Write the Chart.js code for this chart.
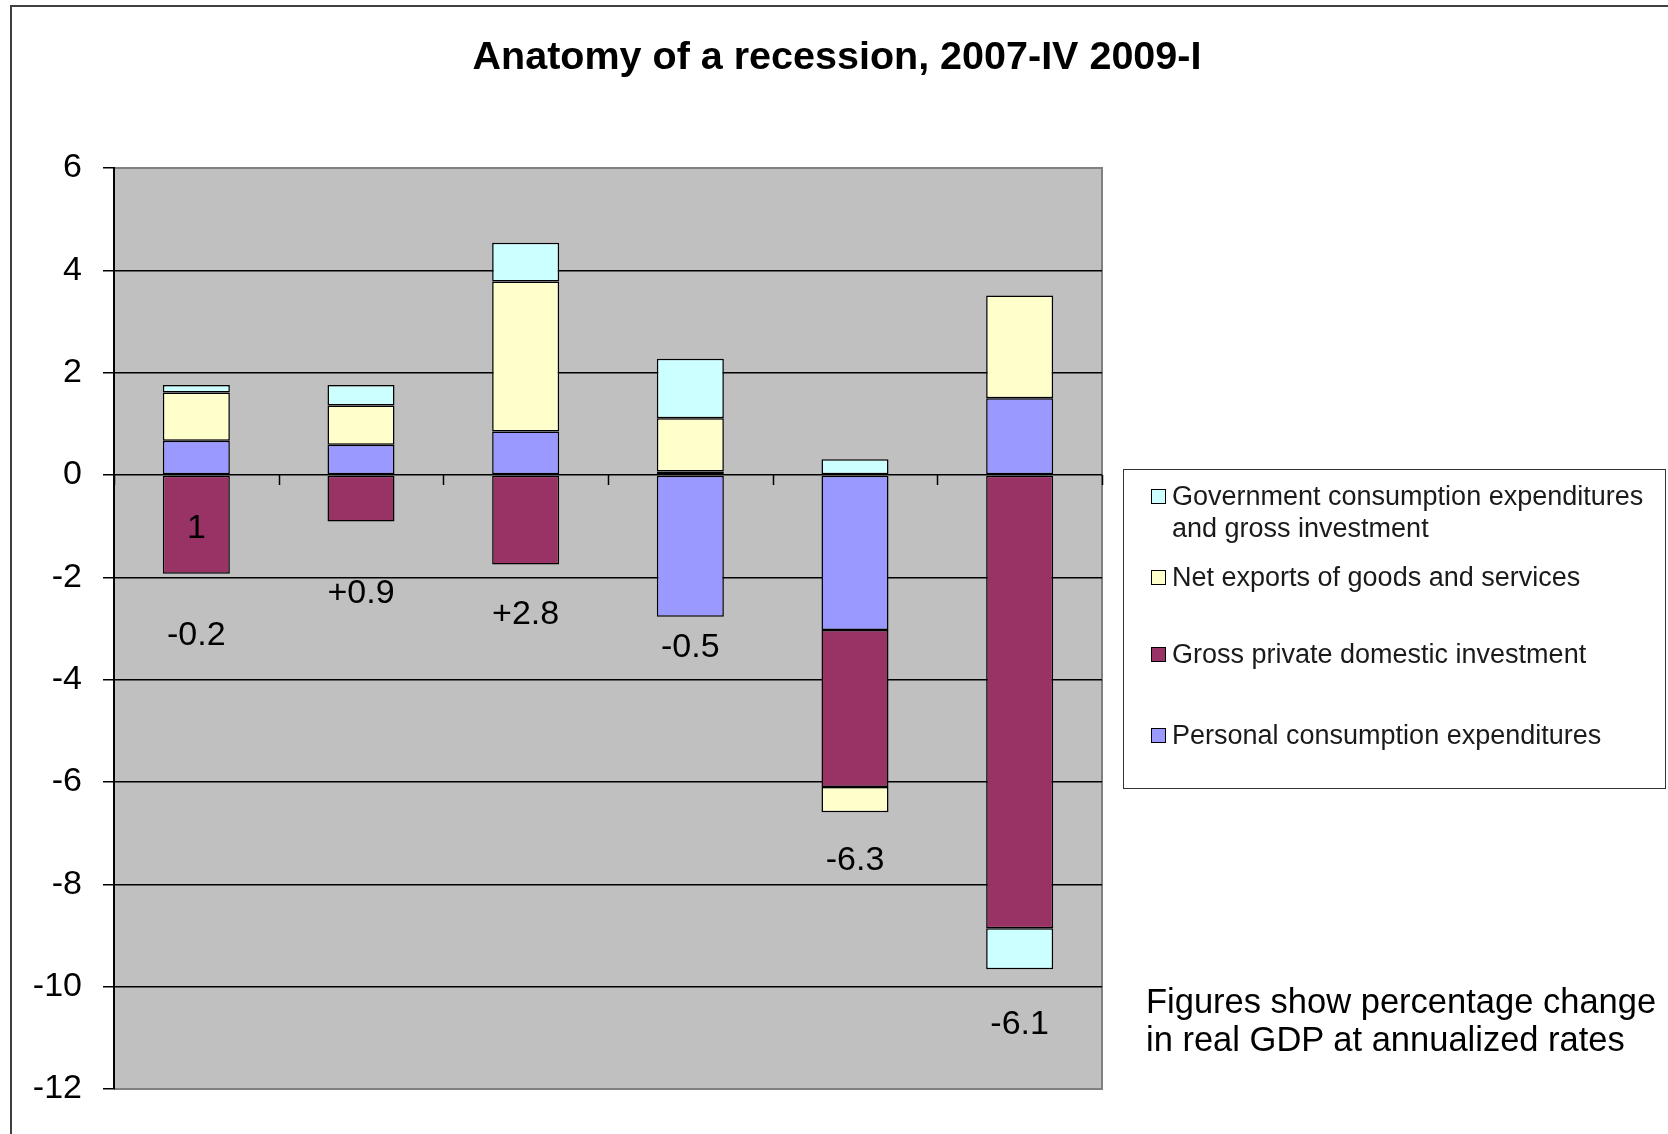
<!DOCTYPE html>
<html>
<head>
<meta charset="utf-8">
<script src="https://cdn.jsdelivr.net/npm/chart.js@4.4.1/dist/chart.umd.min.js"></script>
<style>
  html, body { margin: 0; padding: 0; background: #fff; }
  body { width: 1668px; height: 1134px; position: relative; overflow: hidden; font-family: 'Liberation Sans', Arial, sans-serif; }
  #wrap { position: absolute; left: 0; top: 0; width: 1668px; height: 1134px; }
  #frame { position: absolute; left: 10px; top: 5px; width: 1700px; height: 1200px; border-left: 2px solid #404040; border-top: 2px solid #404040; pointer-events: none; }
  #title { position: absolute; left: 0; width: 1674px; top: 32px; text-align: center; font-weight: bold; font-size: 39.5px; line-height: 46px; color: #000; }
  #legend { position: absolute; left: 1123px; top: 469px; width: 543px; height: 320px; border: 1.5px solid #333; background: #fff; box-sizing: border-box; }
  .lg-item { position: absolute; left: 27px; font-size: 27px; line-height: 32px; color: #1a1a1a; }
  .lg-sw { position: absolute; left: 0; top: 9px; width: 15px; height: 15px; border: 1.5px solid #000; box-sizing: border-box; }
  .lg-txt { margin-left: 21px; }
  #note { position: absolute; left: 1146px; top: 982px; font-size: 34.5px; line-height: 38px; color: #000; white-space: nowrap; }
</style>
</head>
<body>
<div id="wrap"><canvas id="chart"></canvas></div>
<div id="frame"></div>
<div id="title">Anatomy of a recession, 2007-IV 2009-I</div>
<div id="legend"></div>
<div id="note">Figures show percentage change<br>in real GDP at annualized rates</div>
<script>
const quarters = ['2007-IV', '2008-I', '2008-II', '2008-III', '2008-IV', '2009-I'];

// contributions to GDP growth, percentage points
const personal   = [0.67, 0.59, 0.85, -2.77, -3.03, 1.50];
const grossInv   = [-1.93, -0.91, -1.75, 0.07, -3.07, -8.86];
const netExports = [0.94, 0.77, 2.93, 1.04, -0.49, 2.01];
const government = [0.15, 0.40, 0.76, 1.16, 0.31, -0.80];

// GDP change printed under each bar, and where it sits on the value axis
const gdpLabels = ['-0.2', '+0.9', '+2.8', '-0.5', '-6.3', '-6.1'];
const gdpLabelAt = [-3.14, -2.32, -2.73, -3.38, -7.54, -10.74];

const yTicks = [6, 4, 2, 0, -2, -4, -6, -8, -10, -12];

const SERIES = [
  { label: 'Personal consumption expenditures', data: personal, color: '#9999ff' },
  { label: 'Gross private domestic investment', data: grossInv, color: '#993366' },
  { label: 'Net exports of goods and services', data: netExports, color: '#ffffcc' },
  { label: 'Government consumption expenditures and gross investment', data: government, color: '#ccffff' },
];

// legend (Excel lists series in reverse)
const legendTops = [10, 91, 168, 249];
const legendEl = document.getElementById('legend');
[...SERIES].reverse().forEach((s, i) => {
  const item = document.createElement('div');
  item.className = 'lg-item';
  item.style.top = legendTops[i] + 'px';
  const txt = s.label === SERIES[3].label ? 'Government consumption expenditures<br>and gross investment' : s.label;
  item.innerHTML = `<span class="lg-sw" style="background:${s.color}"></span><div class="lg-txt">${txt}</div>`;
  legendEl.appendChild(item);
});

const plotBg = {
  id: 'plotBg',
  beforeDraw(chart) {
    const { ctx, chartArea: a } = chart;
    ctx.save();
    ctx.fillStyle = '#c0c0c0';
    ctx.fillRect(a.left, a.top, a.right - a.left, a.bottom - a.top);
    ctx.strokeStyle = '#808080';
    ctx.lineWidth = 2;
    ctx.beginPath();
    ctx.moveTo(a.left, a.top);
    ctx.lineTo(a.right, a.top);
    ctx.lineTo(a.right, a.bottom);
    ctx.lineTo(a.left, a.bottom);
    ctx.stroke();
    ctx.restore();
  },
  afterDatasetsDraw(chart) {
    const { ctx, chartArea: a, scales: { x, y } } = chart;
    const y0 = y.getPixelForValue(0);
    const catW = (a.right - a.left) / quarters.length;
    ctx.save();
    ctx.strokeStyle = '#000';
    ctx.lineWidth = 1.5;
    ctx.beginPath();
    for (let k = 0; k <= quarters.length; k++) {
      const px = Math.round(a.left + k * catW) + 0.5;
      ctx.moveTo(px, y0);
      ctx.lineTo(px, y0 + 10);
    }
    ctx.stroke();

    ctx.fillStyle = '#000';
    ctx.font = '34px "Liberation Sans", Arial, sans-serif';
    ctx.textAlign = 'center';
    ctx.textBaseline = 'middle';
    gdpLabels.forEach((t, i) => {
      ctx.fillText(t, x.getPixelForValue(i), y.getPixelForValue(gdpLabelAt[i]));
    });
    // stray "1" sitting inside the first investment bar
    ctx.fillText('1', x.getPixelForValue(0), y.getPixelForValue(-1.05));
    ctx.restore();
  },
};

new Chart(document.getElementById('chart'), {
  type: 'bar',
  data: {
    labels: quarters,
    datasets: SERIES.map(s => ({
      label: s.label,
      data: s.data,
      backgroundColor: s.color,
      borderColor: '#000',
      borderWidth: 1.5,
      borderSkipped: false,
      categoryPercentage: 1,
      barPercentage: 0.407,
    })),
  },
  options: {
    responsive: true,
    maintainAspectRatio: false,
    animation: false,
    layout: { padding: { left: 0, top: 168, right: 566, bottom: 45 } },
    plugins: { legend: { display: false }, tooltip: { enabled: false } },
    scales: {
      x: { stacked: true, display: false },
      y: {
        stacked: true,
        min: -12,
        max: 6,
        afterBuildTicks: s => { s.ticks = yTicks.map(v => ({ value: v })); },
        afterFit: s => { s.width = 114; },
        ticks: {
          color: '#000',
          padding: 21,
          font: { family: '"Liberation Sans", Arial, sans-serif', size: 34 },
          callback: v => String(v),
        },
        grid: {
          color: c => (c.tick && (c.tick.value === 6 || c.tick.value === -12)) ? 'rgba(0,0,0,0)' : '#000',
          lineWidth: 1.5,
          tickColor: '#000',
          tickLength: 11,
        },
        border: { display: true, color: '#000', width: 2 },
      },
    },
  },
  plugins: [plotBg],
});
</script>
</body>
</html>
